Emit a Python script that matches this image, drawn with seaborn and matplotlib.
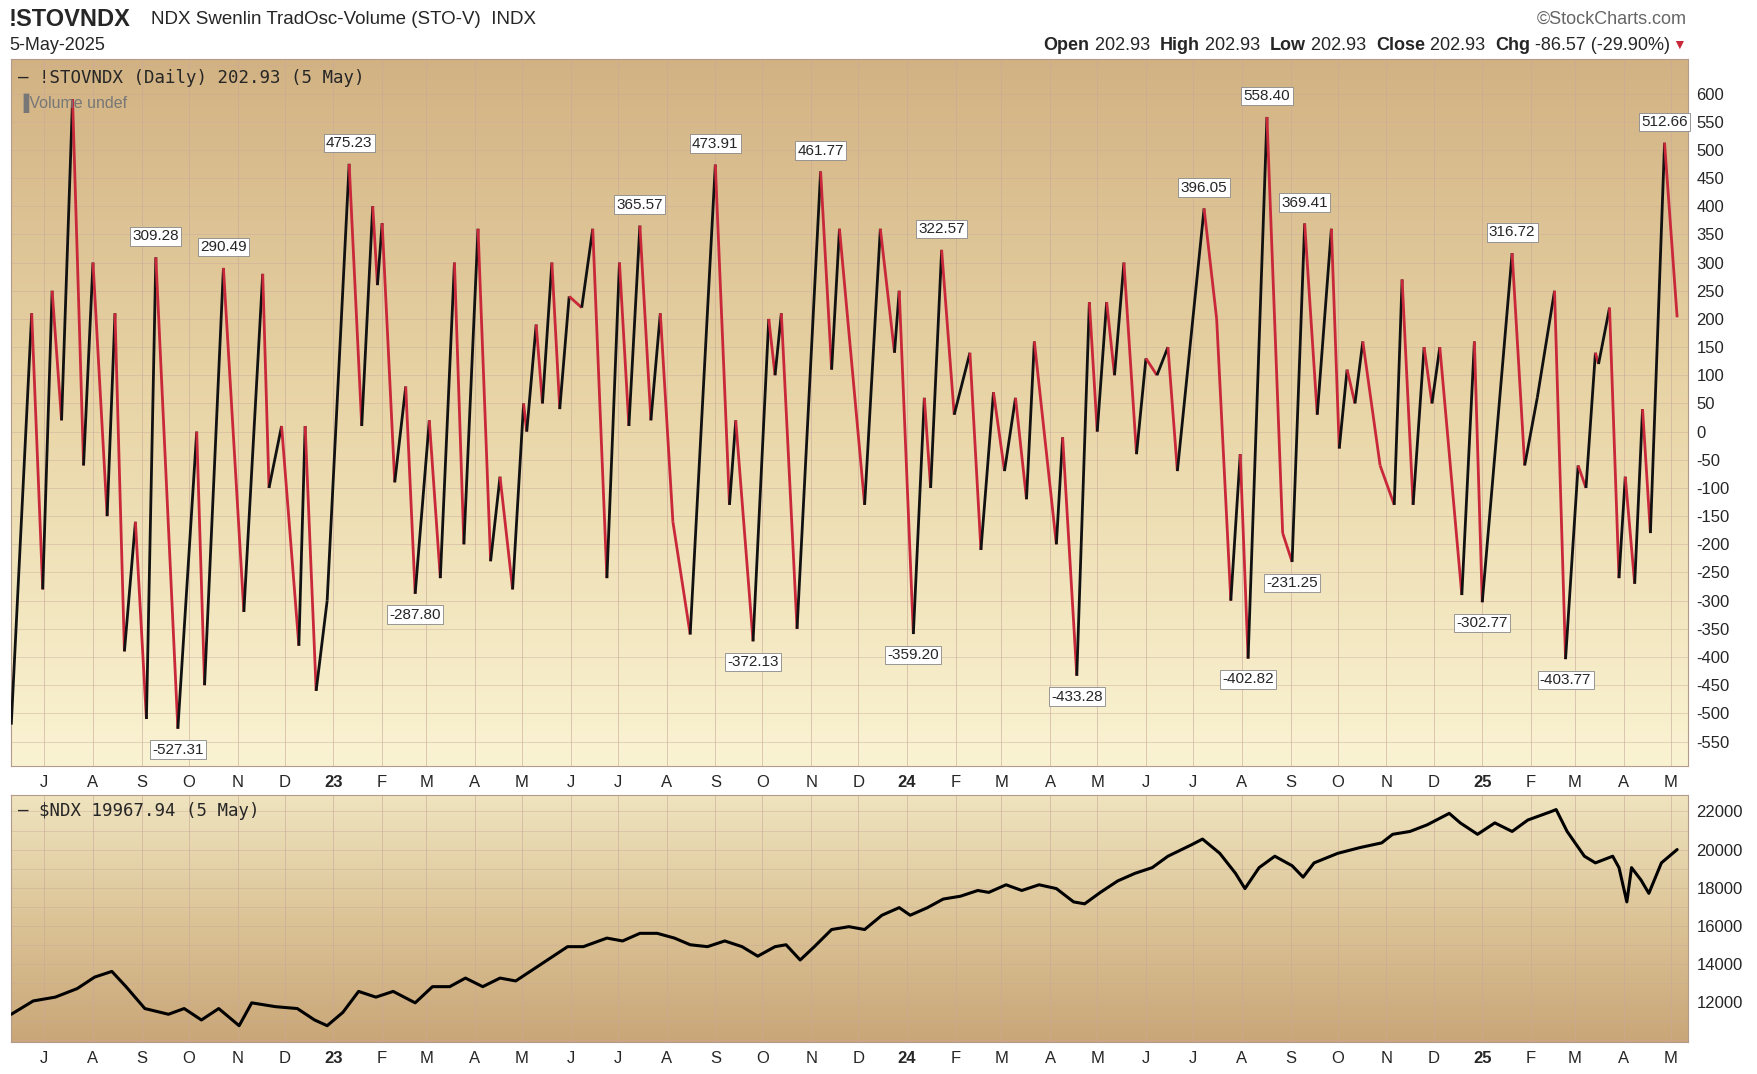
import numpy as np
import pandas as pd
import matplotlib
matplotlib.use("Agg")
import matplotlib.pyplot as plt
import matplotlib.dates as mdates
from matplotlib.collections import LineCollection
from matplotlib.colors import LinearSegmentedColormap
import seaborn as sns

sns.set_style("white")
plt.rcParams["font.family"] = "Liberation Sans"

BASE = pd.Timestamp("2022-07-01")

# STO-V oscillator turning points (days after 1-Jul-2022, value)
osc_days = [-21, -8, -1, 5, 11, 18, 25, 31, 40, 45,
            51, 58, 65, 71, 85, 97, 102, 114, 127, 139,
            143, 151, 162, 166, 173, 180, 194, 202, 209, 212,
            215, 223, 230, 236, 245, 252, 261, 267, 276, 284,
            290, 298, 305, 307, 313, 317, 323, 328, 334, 342,
            349, 358, 366, 372, 379, 386, 392, 400, 411, 427,
            436, 440, 451, 461, 465, 469, 479, 494, 501, 506,
            522, 532, 541, 544, 553, 560, 564, 571, 579, 589,
            596, 604, 611, 618, 625, 630, 644, 648, 657, 665,
            670, 676, 681, 687, 695, 701, 708, 715, 721, 738,
            746, 755, 761, 766, 778, 788, 794, 802, 810, 819,
            824, 829, 834, 839, 850, 859, 864, 871, 878, 883,
            888, 902, 910, 915, 934, 942, 950, 961, 968, 976,
            981, 987, 989, 996, 1002, 1006, 1012, 1017, 1022, 1031,
            1039]
osc_vals = [-520, 210, -280, 250, 20, 590, -60, 300, -150, 210,
            -390, -160, -510, 309.28, -527.31, 0, -450, 290.49, -320, 280,
            -100, 10, -380, 10, -460, -300, 475.23, 10, 400, 260,
            370, -90, 80, -287.80, 20, -260, 300, -200, 360, -230,
            -80, -280, 50, 0, 190, 50, 300, 40, 240, 220,
            360, -260, 300, 10, 365.57, 20, 210, -160, -360, 473.91,
            -130, 20, -372.13, 200, 100, 210, -350, 461.77, 110, 360,
            -130, 360, 140, 250, -359.20, 60, -100, 322.57, 30, 140,
            -210, 70, -70, 60, -120, 160, -200, -10, -433.28, 230,
            0, 230, 100, 300, -40, 130, 100, 150, -70, 396.05,
            200, -300, -40, -402.82, 558.40, -180, -231.25, 369.41, 30, 360,
            -30, 110, 50, 160, -60, -130, 270, -130, 150, 50,
            150, -290, 160, -302.77, 316.72, -60, 60, 250, -403.77, -60,
            -100, 140, 120, 220, -260, -80, -270, 40, -180, 512.66,
            202.93]
labeled = [309.28, -527.31, 290.49, 475.23, -287.80, 365.57, 473.91, -372.13,
           461.77, -359.20, 322.57, -433.28, 396.05, -402.82, 558.40, -231.25,
           369.41, 316.72, -302.77, -403.77, 512.66]

# $NDX close (days after 1-Jul-2022, value)
ndx_days = [-21, -7, 7, 21, 32, 43, 52, 64, 79, 89,
            100, 111, 124, 132, 147, 161, 172, 180, 190, 200,
            211, 222, 236, 247, 258, 268, 279, 290, 300, 311,
            322, 333, 343, 358, 368, 379, 390, 401, 411, 422,
            433, 444, 454, 465, 472, 481, 490, 501, 512, 522,
            533, 544, 551, 562, 572, 583, 594, 601, 612, 622,
            633, 644, 655, 662, 672, 683, 694, 705, 715, 730,
            737, 748, 758, 764, 773, 783, 794, 801, 808, 823,
            837, 851, 858, 869, 880, 894, 901, 912, 923, 934,
            944, 959, 962, 969, 980, 987, 998, 1002, 1007, 1010,
            1016, 1021, 1029, 1039]
ndx_vals = [11350, 12050, 12250, 12700, 13300, 13600, 12800, 11650, 11350, 11650,
            11050, 11650, 10750, 11950, 11750, 11650, 11050, 10750, 11450, 12550,
            12250, 12550, 11950, 12800, 12800, 13250, 12800, 13250, 13100, 13700,
            14300, 14900, 14900, 15350, 15200, 15600, 15600, 15350, 15000, 14900,
            15200, 14900, 14400, 14900, 15000, 14200, 14900, 15800, 15950, 15800,
            16550, 16950, 16550, 16950, 17400, 17550, 17850, 17750, 18150, 17850,
            18150, 17950, 17250, 17150, 17750, 18350, 18750, 19050, 19650, 20250,
            20550, 19800, 18750, 17950, 19050, 19650, 19150, 18550, 19300, 19800,
            20100, 20350, 20800, 20950, 21300, 21900, 21400, 20800, 21400, 20950,
            21550, 22000, 22100, 20950, 19650, 19300, 19650, 19050, 17250, 19050,
            18400, 17700, 19300, 20000]

osc_dates = BASE + pd.to_timedelta(osc_days, unit="D")
ndx_dates = BASE + pd.to_timedelta(ndx_days, unit="D")
ndx = pd.DataFrame({"date": ndx_dates, "close": ndx_vals})

fig = plt.figure(figsize=(17.58, 10.74), dpi=100)
W, H = 1560.0, 953.0
ax1 = fig.add_axes([10 / W, 1 - 680 / H, 1488 / W, 628 / H])
ax2 = fig.add_axes([10 / W, 1 - 925 / H, 1488 / W, 220 / H])

xmin = mdates.date2num(BASE + pd.Timedelta(days=-21))
xmax = mdates.date2num(BASE + pd.Timedelta(days=1046))

grad1 = LinearSegmentedColormap.from_list("g1", ["#d2b283", "#e9d6a8", "#faf3d2"])
grad2 = LinearSegmentedColormap.from_list("g2", ["#efe4bf", "#dcc497", "#c9a677"])
for ax, cm in ((ax1, grad1), (ax2, grad2)):
    ax.imshow(np.linspace(0, 1, 256).reshape(-1, 1), aspect="auto", cmap=cm,
              extent=[0, 1, 0, 1], transform=ax.transAxes, zorder=0)

# month ticks
months = pd.date_range("2022-07-01", "2025-05-01", freq="MS")
tick_pos = mdates.date2num(months)
tick_lab = [m.strftime("%y") if m.month == 1 else m.strftime("%b")[0] for m in months]

grid_c = "#c9a99a"
for ax in (ax1, ax2):
    ax.set_xlim(xmin, xmax)
    ax.set_xticks(tick_pos)
    ax.set_xticklabels(tick_lab, fontsize=12)
    for lab, m in zip(ax.get_xticklabels(), months):
        if m.month == 1:
            lab.set_fontweight("bold")
    ax.yaxis.tick_right()
    ax.tick_params(axis="both", length=0, pad=6, labelsize=12)
    for t in tick_pos:
        ax.axvline(t, color=grid_c, lw=0.6, alpha=0.7, zorder=1)
    for s in ax.spines.values():
        s.set_color("#b39a8a")
    ax.set_xlabel("")
    ax.set_ylabel("")

# oscillator panel
ax1.set_ylim(-594, 662)
ax1.set_yticks(np.arange(-550, 601, 50))
ax1.set_yticklabels([str(v) for v in range(-550, 601, 50)], fontsize=12)
for v in np.arange(-550, 651, 50):
    ax1.axhline(v, color=grid_c, lw=0.5, alpha=0.6, zorder=1)

xn = mdates.date2num(osc_dates)
pts = np.column_stack([xn, osc_vals])
segs = np.stack([pts[:-1], pts[1:]], axis=1)
cols = ["#111111" if b > a else "#c8283a" for a, b in zip(osc_vals[:-1], osc_vals[1:])]
ax1.add_collection(LineCollection(segs, colors=cols, linewidths=2.0, zorder=3))

for d, v in zip(xn, osc_vals):
    if v in labeled:
        off = 10 if v > 0 else -10
        ax1.annotate(f"{v:.2f}", (d, v), xytext=(0, off), textcoords="offset points",
                     ha="center", va="bottom" if v > 0 else "top", fontsize=11,
                     bbox=dict(boxstyle="square,pad=0.15", fc="white", ec="#888888", lw=0.6),
                     zorder=5)

ax1.text(0.004, 0.985, "\u2014 !STOVNDX (Daily) 202.93 (5 May)", transform=ax1.transAxes,
         ha="left", va="top", fontsize=12.5, family="DejaVu Sans Mono", zorder=6)
ax1.text(0.004, 0.95, "\u2590Volume undef", transform=ax1.transAxes,
         ha="left", va="top", fontsize=11.5, color="#777777", zorder=6)

# NDX panel
sns.lineplot(data=ndx, x=mdates.date2num(ndx["date"]), y="close", ax=ax2,
             color="black", lw=2.2, zorder=3)
ax2.set_xlim(xmin, xmax)
ax2.set_ylim(9870, 22890)
ax2.set_yticks(range(12000, 22001, 2000))
ax2.set_yticklabels([str(v) for v in range(12000, 22001, 2000)], fontsize=12)
for v in range(10000, 23001, 1000):
    ax2.axhline(v, color=grid_c, lw=0.5, alpha=0.6, zorder=1)
ax2.set_xlabel("")
ax2.set_ylabel("")
ax2.text(0.004, 0.97, "\u2014 $NDX 19967.94 (5 May)", transform=ax2.transAxes,
         ha="left", va="top", fontsize=12.5, family="DejaVu Sans Mono", zorder=6)

# header
fig.text(8 / W, 1 - 17 / H, "!STOVNDX", fontsize=17, fontweight="bold", va="center")
fig.text(134 / W, 1 - 17 / H, "NDX Swenlin TradOsc-Volume (STO-V)  INDX", fontsize=13.5, va="center")
fig.text(8 / W, 1 - 40 / H, "5-May-2025", fontsize=13, va="center")
fig.text(1497 / W, 1 - 17 / H, "\u00a9StockCharts.com", fontsize=13, color="#666666",
         va="center", ha="right")

# Open/High/Low/Close line, chained right to left
hdr = [("Open", True), (" 202.93  ", False), ("High", True), (" 202.93  ", False),
       ("Low", True), (" 202.93  ", False), ("Close", True), (" 202.93  ", False),
       ("Chg", True), (" -86.57 (-29.90%)", False)]
renderer = fig.canvas.get_renderer()
xr = 1482 / W
for s, b in reversed(hdr):
    t = fig.text(xr, 1 - 40 / H, s, fontsize=13, va="center", ha="right",
                 fontweight="bold" if b else "normal")
    bb = t.get_window_extent(renderer)
    xr -= bb.width / fig.bbox.width
fig.text(1490 / W, 1 - 40 / H, "\u25bc", fontsize=10, color="#c8283a", va="center", ha="center")

fig.savefig("out.png", dpi=100, facecolor="white")
